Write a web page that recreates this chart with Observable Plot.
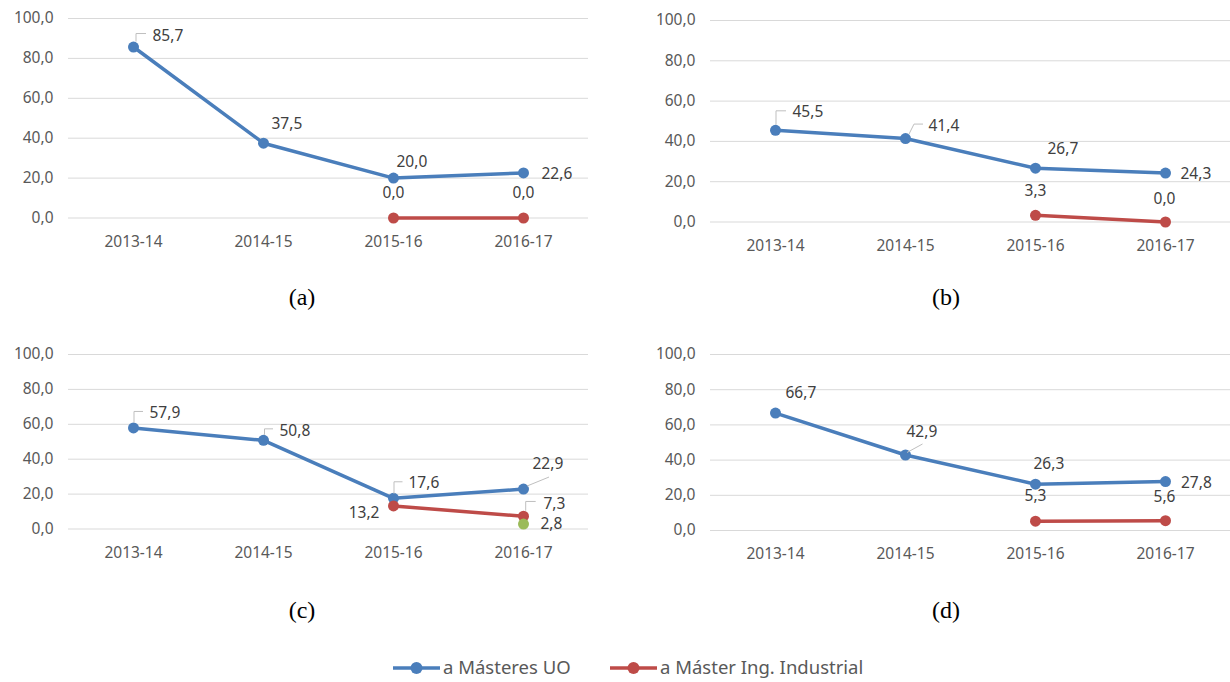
<!DOCTYPE html>
<html><head><meta charset="utf-8">
<script src="https://cdn.jsdelivr.net/npm/d3@7"></script>
<script src="https://cdn.jsdelivr.net/npm/@observablehq/plot@0.6"></script>
<style>
html,body{margin:0;padding:0;background:#fff}
body{width:1230px;height:682px;overflow:hidden;position:relative;font-family:"Noto Sans",sans-serif}
.panel{position:absolute}
.panel svg{overflow:visible}
.cap{position:absolute;font-family:"Liberation Serif","Times New Roman",serif;font-size:24px;color:#000;transform:translate(-50%,-50%);white-space:nowrap}
#legend{position:absolute;left:0;top:654px}
</style></head><body>
<script>
// ---------- data ----------
const categories = ["2013-14", "2014-15", "2015-16", "2016-17"];
const panelNames = ["(a)", "(b)", "(c)", "(d)"];
const seriesNames = ["a Másteres UO", "a Máster Ing. Industrial"];
const yTicks = [0, 20, 40, 60, 80, 100];

const uoA = [85.7, 37.5, 20.0, 22.6];
const uoB = [45.5, 41.4, 26.7, 24.3];
const uoC = [57.9, 50.8, 17.6, 22.9];
const uoD = [66.7, 42.9, 26.3, 27.8];

const indA = [null, null, 0.0, 0.0];
const indB = [null, null, 3.3, 0.0];
const indC = [null, null, 13.2, 7.3];
const indD = [null, null, 5.3, 5.6];

const extraC = [null, null, null, 2.8];

// ---------- styles / layout ----------
const BLUE = "#4a7ebb", RED = "#be4b48", GREEN = "#9bbb59";
const fmt = d => d.toFixed(1).replace(".", ",");

// label placement per point: [dx, dy, anchor, leader polyline offsets]
const C1 = (x, y1, y2, x2) => [[x, y1], [x, y2], [x2, y2]];
const layouts = [
  { left: 0, frameTop: 17.5, frameH: 199.5, cap: [302, 297],
    uo: [[19, -11, "start", C1(3, -5, -13, 13)], [8, -19, "start"], [3, -16, "start"], [18, 1, "start"]],
    ind: [null, null, [0, -25, "middle"], [0, -25, "middle"]] },
  { left: 642, frameTop: 19.5, frameH: 201.5, cap: [946, 297],
    uo: [[17, -18, "start", C1(1, -5, -19, 11)], [23, -13, "start", [[4, -4], [9, -14], [18, -14]]], [12, -19, "start"], [15, 1, "start"]],
    ind: [null, null, [0, -24, "middle"], [-1, -23, "middle"]] },
  { left: 0, frameTop: 354, frameH: 174.5, cap: [302, 610],
    uo: [[16, -15, "start", C1(1, -5, -16, 10)], [16, -9, "start", C1(1.5, -5, -11, 10)], [15, -15, "start", C1(1, -4, -16, 9.5)], [9, -25, "start", [[4, -2.5], [26, -11.5]]]],
    ind: [null, null, [-14, 7, "end"], [20, -12, "start", C1(2.7, -5, -14.3, 12.7)]],
    extra: [null, null, null, [17, 0, "start"]] },
  { left: 642, frameTop: 354, frameH: 176, cap: [946, 610],
    uo: [[10, -20, "start"], [1, -23, "start", [[2, -2], [17.5, -10.5]]], [-2, -20.5, "start"], [15.5, 1, "start"]],
    ind: [null, null, [0, -25, "middle"], [-1, -24, "middle"]] }
];
const uoSets = [uoA, uoB, uoC, uoD];
const indSets = [indA, indB, indC, indD];
const extraSets = [null, null, extraC, null];

const MT = 30, MB = 40, W = 588, ML = 68;

panelNames.forEach((name, p) => {
  const lay = layouts[p];
  const seriesList = [
    { values: uoSets[p], color: BLUE, labels: lay.uo, line: true },
    { values: indSets[p], color: RED, labels: lay.ind, line: true }
  ];
  if (extraSets[p]) seriesList.push({ values: extraSets[p], color: GREEN, labels: lay.extra, line: false });

  const marks = [
    Plot.gridY(yTicks, { stroke: "#d9d9d9", strokeOpacity: 1, strokeWidth: 1 }),
    Plot.axisY(yTicks, { tickSize: 0, tickPadding: 15, tickFormat: fmt, fill: "#595959" }),
    Plot.axisX({ tickSize: 0, tickPadding: 17.5, fill: "#595959" })
  ];
  const labelRows = [];
  seriesList.forEach(s => {
    const rows = categories.map((c, i) => ({ cat: c, value: s.values[i], lab: s.labels ? s.labels[i] : null }))
      .filter(d => d.value != null);
    if (s.line) marks.push(Plot.line(rows, { x: "cat", y: "value", stroke: s.color, strokeWidth: 3.5 }));
    marks.push(Plot.dot(rows, { x: "cat", y: "value", r: 5.5, fill: s.color, stroke: "none" }));
    rows.forEach(r => { if (r.lab) labelRows.push(r); });
  });
  labelRows.forEach(r => {
    const [dx, dy, anchor] = r.lab;
    marks.push(Plot.text([r], { x: "cat", y: "value", text: d => fmt(d.value), dx, dy, textAnchor: anchor, fill: "#404040", fontSize: 15.5 }));
  });

  const plot = Plot.plot({
    width: W, height: MT + lay.frameH + MB,
    marginLeft: ML, marginRight: 0, marginTop: MT, marginBottom: MB,
    x: { type: "point", domain: categories, padding: 0.5, label: null },
    y: { domain: [0, 100], label: null },
    style: { fontFamily: "Noto Sans", fontSize: "15.5px", color: "#595959", background: "transparent" },
    marks
  });

  // leader lines, positioned with the plot's own scales
  const xs = plot.scale("x"), ys = plot.scale("y");
  const g = d3.select(plot).append("g").attr("fill", "none").attr("stroke", "#bfbfbf").attr("stroke-width", 1);
  labelRows.forEach(r => {
    const leader = r.lab[3];
    if (!leader) return;
    const px = xs.apply(r.cat), py = ys.apply(r.value);
    g.append("path").attr("d", d3.line()(leader.map(([a, b]) => [px + a, py + b])));
  });

  const div = document.createElement("div");
  div.className = "panel";
  div.style.left = lay.left + "px";
  div.style.top = (lay.frameTop - MT) + "px";
  div.appendChild(plot);
  document.body.appendChild(div);

  const cap = document.createElement("div");
  cap.className = "cap";
  cap.style.left = lay.cap[0] + "px";
  cap.style.top = lay.cap[1] + "px";
  cap.textContent = name;
  document.body.appendChild(cap);
});

// legend
const legendItems = [
  { name: seriesNames[0], color: BLUE, x: 393 },
  { name: seriesNames[1], color: RED, x: 610 }
];
const lg = d3.select(document.body).append("svg").attr("id", "legend").attr("width", 1230).attr("height", 28);
legendItems.forEach(it => {
  lg.append("line").attr("x1", it.x).attr("x2", it.x + 47).attr("y1", 14).attr("y2", 14).attr("stroke", it.color).attr("stroke-width", 3.5);
  lg.append("circle").attr("cx", it.x + 23.5).attr("cy", 14).attr("r", 6).attr("fill", it.color);
  lg.append("text").attr("x", it.x + 50).attr("y", 14).attr("dy", "0.35em").attr("fill", "#595959")
    .style("font-family", "Noto Sans").style("font-size", "18.5px").text(it.name);
});
</script>
</body></html>
